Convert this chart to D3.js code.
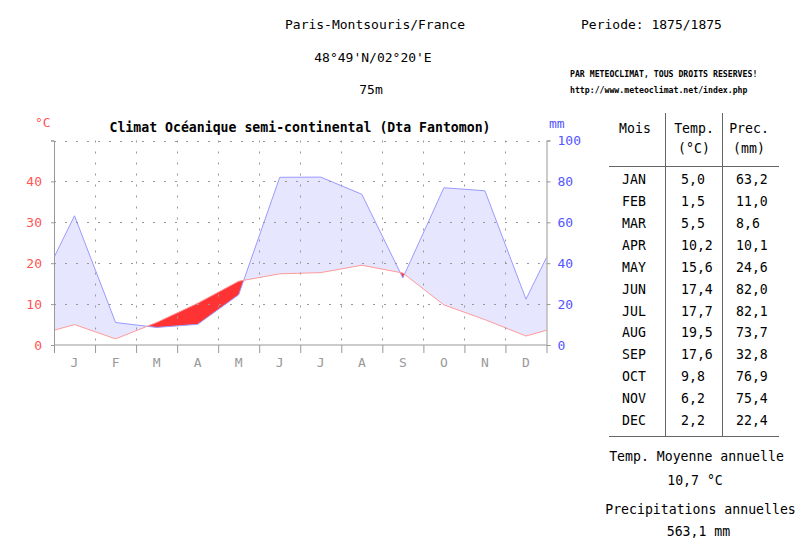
<!DOCTYPE html>
<html><head><meta charset="utf-8">
<script src="https://cdn.jsdelivr.net/npm/d3@7"></script>
<style>
body{margin:0;background:#fff;}
svg{display:block;}
text{font-family:"DejaVu Sans Mono",monospace;}
</style></head>
<body>
<svg id="c" width="800" height="557"></svg>
<script>
const months = ["JAN","FEB","MAR","APR","MAY","JUN","JUL","AUG","SEP","OCT","NOV","DEC"];
const monthLetters = ["J","F","M","A","M","J","J","A","S","O","N","D"];
const temps = [5.0,1.5,5.5,10.2,15.6,17.4,17.7,19.5,17.6,9.8,6.2,2.2];
const precs = [63.2,11.0,8.6,10.1,24.6,82.0,82.1,73.7,32.8,76.9,75.4,22.4];
const tempTicks = [0,10,20,30,40];
const precTicks = [0,20,40,60,80,100];
const station = "Paris-Montsouris/France";
const coords = "48°49'N/02°20'E";
const altitude = "75m";
const period = "Periode: 1875/1875";
const title = "Climat Océanique semi-continental (Dta Fantomon)";
const annualTemp = "10,7 °C";
const annualPrec = "563,1 mm";

const fmt = v => v.toFixed(1).replace(".", ",");
const svg = d3.select("#c");

const L = 54, R = 546.5, T = 140.5, B = 345;
const x = d3.scaleLinear().domain([-0.5, 11.5]).range([L, R]);
const yT = d3.scaleLinear().domain([0, 50]).range([B, T]);
const yP = d3.scaleLinear().domain([0, 100]).range([B, T]);

// header
svg.append("text").attr("x",375).attr("y",24).attr("text-anchor","middle").attr("dominant-baseline","central").style("font-size","13px").text(station);
svg.append("text").attr("x",373).attr("y",57).attr("text-anchor","middle").attr("dominant-baseline","central").style("font-size","13px").text(coords);
svg.append("text").attr("x",371).attr("y",89).attr("text-anchor","middle").attr("dominant-baseline","central").style("font-size","13px").text(altitude);
svg.append("text").attr("x",581).attr("y",24.5).attr("dominant-baseline","central").style("font-size","13px").text(period);
svg.append("text").attr("x",570).attr("y",73.5).attr("dominant-baseline","central").style("font-size","8.2px").style("font-weight","bold").text("PAR METEOCLIMAT, TOUS DROITS RESERVES!");
svg.append("text").attr("x",570).attr("y",89.5).attr("dominant-baseline","central").style("font-size","8.2px").style("font-weight","bold").text("http://www.meteoclimat.net/index.php");

// title
svg.append("text").attr("x",300).attr("y",127).attr("text-anchor","middle").attr("dominant-baseline","central").style("font-size","13.2px").style("font-weight","bold").text(title);
svg.append("text").attr("x",35).attr("y",122.5).attr("dominant-baseline","central").style("font-size","13px").attr("fill","#ff5555").text("°C");
svg.append("text").attr("x",549).attr("y",123).attr("dominant-baseline","central").style("font-size","13px").attr("fill","#5555ff").text("mm");

// data with wrap-around
const idx = d3.range(-1, 13);
const pts = idx.map(i => { const m = (i + 12) % 12; return {i, t: temps[m], p: precs[m]}; });
// breakpoints incl. intersections of 2T and P
const bp = [];
for (let k = 0; k < pts.length; k++) {
  const a = pts[k];
  bp.push({i: a.i, t2: a.t * 2, p: a.p});
  if (k < pts.length - 1) {
    const b = pts[k+1];
    const da = a.t*2 - a.p, db = b.t*2 - b.p;
    if (da * db < 0) {
      const f = da / (da - db);
      bp.push({i: a.i + f, t2: a.t*2 + f*(b.t*2 - a.t*2), p: a.p + f*(b.p - a.p)});
    }
  }
}

svg.append("clipPath").attr("id","clip").append("rect").attr("x",L).attr("y",T-1).attr("width",R-L).attr("height",B-T+1);
const plot = svg.append("g").attr("clip-path","url(#clip)");

plot.append("path").datum(bp).attr("fill","#e6e6ff")
  .attr("d", d3.area().x(d => x(d.i)).y0(d => yP(d.t2)).y1(d => yP(Math.max(d.p, d.t2))));
plot.append("path").datum(bp).attr("fill","#ff3333")
  .attr("d", d3.area().x(d => x(d.i)).y0(d => yP(d.p)).y1(d => yP(Math.max(d.p, d.t2))));

// grid
const grid = svg.append("g").attr("stroke","#999").attr("stroke-width",1).attr("stroke-dasharray","2,9");
[10,20,30,40,50].forEach(v => grid.append("line").attr("x1",L).attr("x2",R).attr("y1",Math.round(yT(v))+0.5).attr("y2",Math.round(yT(v))+0.5));
d3.range(0.5, 11, 1).forEach(v => grid.append("line").attr("x1",Math.round(x(v))+0.5).attr("x2",Math.round(x(v))+0.5).attr("y1",T).attr("y2",B));

plot.append("path").datum(pts).attr("fill","none").attr("stroke","#9a9aff").attr("stroke-width",1)
  .attr("d", d3.line().x(d => x(d.i)).y(d => yP(d.p)));
plot.append("path").datum(pts).attr("fill","none").attr("stroke","#ff9a9a").attr("stroke-width",1)
  .attr("d", d3.line().x(d => x(d.i)).y(d => yT(d.t)));

// axes
const axL = svg.append("g").attr("transform",`translate(${L},0)`)
  .call(d3.axisLeft(yT).tickValues([0,10,20,30,40,50]).tickSize(3).tickPadding(9).tickFormat(d => d === 50 ? "" : d));
axL.selectAll("text").attr("fill","#ff5555").style("font-size","13px").style("font-family","DejaVu Sans Mono");
const axR = svg.append("g").attr("transform",`translate(${R},0)`)
  .call(d3.axisRight(yP).tickValues(precTicks).tickSize(4).tickPadding(7));
axR.selectAll("text").attr("fill","#5555ff").style("font-size","13px").style("font-family","DejaVu Sans Mono");
const axB = svg.append("g").attr("transform",`translate(0,${B})`)
  .call(d3.axisBottom(x).tickValues(d3.range(-0.5, 12, 1)).tickSize(8).tickFormat(""));
[axL, axR, axB].forEach(g => { g.select(".domain").attr("stroke","#999"); g.selectAll(".tick line").attr("stroke","#999"); });
axB.select(".domain").attr("d", `M${L},0H${R}`);
svg.append("g").selectAll("text").data(monthLetters).join("text")
  .attr("x",(d,i) => x(i)).attr("y",362).attr("text-anchor","middle").attr("dominant-baseline","central")
  .style("font-size","13px").attr("fill","#999").text(d => d);

// table
const tb = svg.append("g").style("font-size","13.2px");
tb.append("text").attr("x",635).attr("y",128).attr("text-anchor","middle").attr("dominant-baseline","central").text("Mois");
tb.append("text").attr("x",694).attr("y",128).attr("text-anchor","middle").attr("dominant-baseline","central").text("Temp.");
tb.append("text").attr("x",694).attr("y",148).attr("text-anchor","middle").attr("dominant-baseline","central").text("(°C)");
tb.append("text").attr("x",749).attr("y",128).attr("text-anchor","middle").attr("dominant-baseline","central").text("Prec.");
tb.append("text").attr("x",749).attr("y",148).attr("text-anchor","middle").attr("dominant-baseline","central").text("(mm)");
tb.append("line").attr("x1",665.5).attr("x2",665.5).attr("y1",113).attr("y2",436).attr("stroke","#666");
tb.append("line").attr("x1",722.5).attr("x2",722.5).attr("y1",113).attr("y2",436).attr("stroke","#666");
tb.append("line").attr("x1",609).attr("x2",779).attr("y1",166.5).attr("y2",166.5).attr("stroke","#666");
tb.append("line").attr("x1",609).attr("x2",779).attr("y1",436.5).attr("y2",436.5).attr("stroke","#666");
months.forEach((m, i) => {
  const yy = 179.3 + 21.95 * i;
  tb.append("text").attr("x",634).attr("y",yy).attr("text-anchor","middle").attr("dominant-baseline","central").text(m);
  tb.append("text").attr("x",681).attr("y",yy).attr("dominant-baseline","central").text(fmt(temps[i]));
  tb.append("text").attr("x",736).attr("y",yy).attr("dominant-baseline","central").text(fmt(precs[i]));
});
tb.append("text").attr("x",696.5).attr("y",456).attr("text-anchor","middle").attr("dominant-baseline","central").text("Temp. Moyenne annuelle");
tb.append("text").attr("x",695).attr("y",480).attr("text-anchor","middle").attr("dominant-baseline","central").text(annualTemp);
tb.append("text").attr("x",700.5).attr("y",509).attr("text-anchor","middle").attr("dominant-baseline","central").text("Precipitations annuelles");
tb.append("text").attr("x",698.5).attr("y",531).attr("text-anchor","middle").attr("dominant-baseline","central").text(annualPrec);
</script>
</body></html>
